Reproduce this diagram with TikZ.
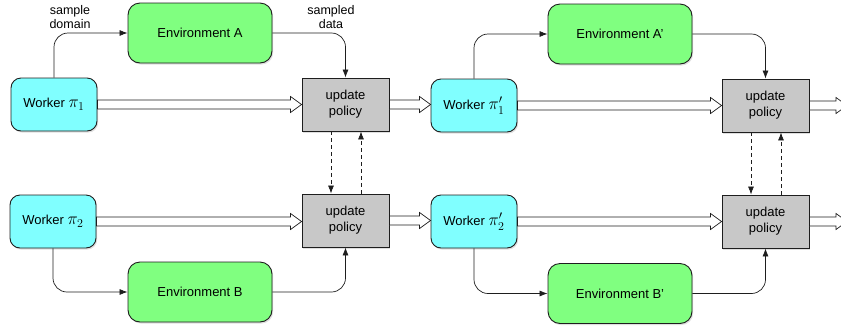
\documentclass[tikz,border=0pt]{standalone}
\usepackage{fontspec}
\setsansfont{Liberation Sans}
\usetikzlibrary{arrows.meta,shadows,calc}

\definecolor{workerfill}{RGB}{128,255,255}
\definecolor{envfill}{RGB}{128,255,128}
\definecolor{updfill}{RGB}{200,200,200}
\definecolor{edgecol}{RGB}{30,30,30}

\tikzset{
  box/.style={draw=edgecol, line width=0.9pt, align=center,
    font=\sffamily\fontsize{13}{16}\selectfont,
    drop shadow={shadow xshift=1.2pt, shadow yshift=-1.6pt, opacity=0.25}},
  worker/.style={box, fill=workerfill, rounded corners=10pt,
    minimum width=86pt, minimum height=53pt, inner sep=0pt},
  env/.style={box, fill=envfill, rounded corners=12pt,
    minimum width=144pt, minimum height=60pt, inner sep=0pt},
  upd/.style={box, fill=updfill, minimum width=87pt, minimum height=53pt, inner sep=0pt},
  flow/.style={draw=edgecol, line width=0.7pt, rounded corners=14pt,
    -{Latex[length=8pt,width=6pt]}},
  sync/.style={draw=edgecol, line width=0.7pt, dashed, dash pattern=on 4pt off 3pt,
    -{Latex[length=8pt,width=6pt]}},
  fat/.style={draw=edgecol, line width=0.7pt, fill=white, line join=miter},
  lbl/.style={align=center, font=\sffamily\fontsize{12.5}{14}\selectfont, inner sep=0pt},
}

% wide hollow arrow from the point #1 to the point #2
\newcommand\fatarrow[2]{%
  \path[fat] let \p1=(#1), \p2=(#2) in
    (\x1,\y1+4.5pt) -- (\x2-11pt,\y1+4.5pt) -- (\x2-11pt,\y1+8pt) --
    (\x2,\y1) -- (\x2-11pt,\y1-8pt) -- (\x2-11pt,\y1-4.5pt) --
    (\x1,\y1-4.5pt) -- cycle;}

\newcommand\wlabel[1]{Worker\ {\fontsize{18}{18}\selectfont$#1$}}

\begin{document}
\begin{tikzpicture}[x=1pt,y=-1pt]
\useasboundingbox (0,0) rectangle (841,325);

% first round
\node[worker] (w1)  at (54,104.5)  {\wlabel{\pi_1}};
\node[env]    (eA)  at (200,33)    {Environment A};
\node[upd]    (u1)  at (345.5,104.5) {update\\policy};
\node[worker] (w2)  at (53,221.5)  {\wlabel{\pi_2}};
\node[env]    (eB)  at (200,292)   {Environment B};
\node[upd]    (u2)  at (345.5,220.5) {update\\policy};

% second round
\node[worker] (w1p) at (474,105.5) {\wlabel{\pi'_1}};
\node[env]    (eAp) at (620,34)    {Environment A'};
\node[upd]    (u1p) at (765.5,105.5) {update\\policy};
\node[worker] (w2p) at (474,221.5) {\wlabel{\pi'_2}};
\node[env]    (eBp) at (620,293.5) {Environment B'};
\node[upd]    (u2p) at (765.5,221.5) {update\\policy};

% continuation beyond the second round
\coordinate (next1) at (847,105.5);
\coordinate (next2) at (847,221.5);

% labels
\node[lbl] (ld) at (70,17)  {sample\\domain};
\node[lbl] (ls) at (331,17) {sampled\\data};

% sampling paths
\draw[flow] (w1.north)  |- (eA.west);
\draw[flow] (eA.east)   -| (u1.north);
\draw[flow] (w2.south)  |- (eB.west);
\draw[flow] (eB.east)   -| (u2.south);
\draw[flow] (w1p.north) |- (eAp.west);
\draw[flow] (eAp.east)  -| (u1p.north);
\draw[flow] (w2p.south) |- (eBp.west);
\draw[flow] (eBp.east)  -| (u2p.south);

% policy exchange between the two workers
\draw[sync] ([xshift=-14.5pt]u1.south)  -- ([xshift=-14.5pt]u2.north);
\draw[sync] ([xshift=15.5pt]u2.north)   -- ([xshift=15.5pt]u1.south);
\draw[sync] ([xshift=-14.5pt]u1p.south) -- ([xshift=-14.5pt]u2p.north);
\draw[sync] ([xshift=15.5pt]u2p.north)  -- ([xshift=15.5pt]u1p.south);

% policy hand-over
\fatarrow{w1.east}{u1.west}
\fatarrow{w2.east}{u2.west}
\fatarrow{u1.east}{w1p.west}
\fatarrow{u2.east}{w2p.west}
\fatarrow{w1p.east}{u1p.west}
\fatarrow{w2p.east}{u2p.west}
\fatarrow{u1p.east}{next1}
\fatarrow{u2p.east}{next2}
\end{tikzpicture}
\end{document}
